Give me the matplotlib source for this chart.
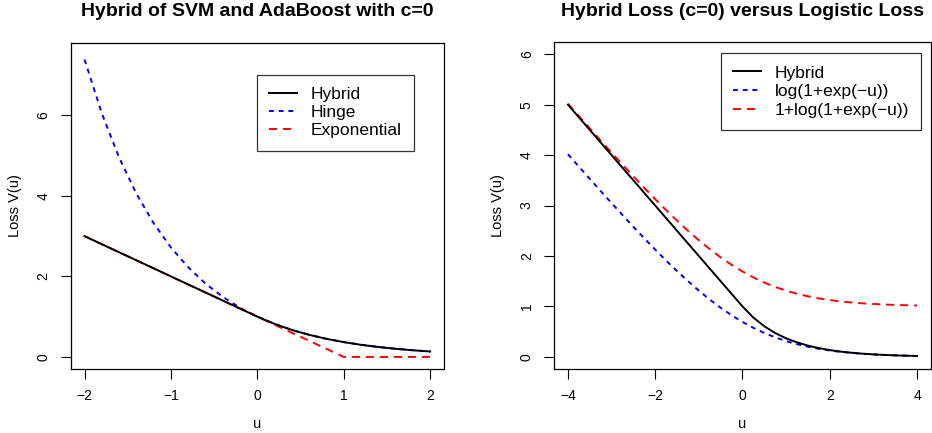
import matplotlib
matplotlib.use("Agg")
import matplotlib.pyplot as plt

plt.rcParams['font.family'] = ['Liberation Sans', 'DejaVu Sans']

# left panel: u from -2 to 2
u_left = [-2.0, -1.8, -1.6, -1.4, -1.2, -1.0, -0.8, -0.6, -0.4, -0.2, 0.0,
          0.2, 0.4, 0.6, 0.8, 1.0, 1.2, 1.4, 1.6, 1.8, 2.0]
hybrid_left = [3.0, 2.8, 2.6, 2.4, 2.2, 2.0, 1.8, 1.6, 1.4, 1.2, 1.0,
               0.819, 0.670, 0.549, 0.449, 0.368, 0.301, 0.247, 0.202, 0.165, 0.135]
hinge_left = [7.389, 6.050, 4.953, 4.055, 3.320, 2.718, 2.226, 1.822, 1.492, 1.221, 1.0,
              0.819, 0.670, 0.549, 0.449, 0.368, 0.301, 0.247, 0.202, 0.165, 0.135]
expo_left = [3.0, 2.8, 2.6, 2.4, 2.2, 2.0, 1.8, 1.6, 1.4, 1.2, 1.0,
             0.8, 0.6, 0.4, 0.2, 0.0, 0.0, 0.0, 0.0, 0.0, 0.0]

# right panel: u from -4 to 4
u_right = [-4.0, -3.75, -3.5, -3.25, -3.0, -2.75, -2.5, -2.25, -2.0, -1.75, -1.5,
           -1.25, -1.0, -0.75, -0.5, -0.25, 0.0, 0.25, 0.5, 0.75, 1.0, 1.25,
           1.5, 1.75, 2.0, 2.25, 2.5, 2.75, 3.0, 3.25, 3.5, 3.75, 4.0]
hybrid_right = [5.0, 4.75, 4.5, 4.25, 4.0, 3.75, 3.5, 3.25, 3.0, 2.75, 2.5,
                2.25, 2.0, 1.75, 1.5, 1.25, 1.0, 0.779, 0.607, 0.472, 0.368, 0.287,
                0.223, 0.174, 0.135, 0.105, 0.082, 0.064, 0.050, 0.039, 0.030, 0.024, 0.018]
logit_right = [4.018, 3.773, 3.530, 3.288, 3.049, 2.812, 2.579, 2.350, 2.127, 1.910, 1.701,
               1.502, 1.313, 1.137, 0.974, 0.826, 0.693, 0.576, 0.474, 0.387, 0.313, 0.252,
               0.201, 0.160, 0.127, 0.100, 0.079, 0.062, 0.049, 0.038, 0.030, 0.023, 0.018]
logit1_right = [5.018, 4.773, 4.530, 4.288, 4.049, 3.812, 3.579, 3.350, 3.127, 2.910, 2.701,
                2.502, 2.313, 2.137, 1.974, 1.826, 1.693, 1.576, 1.474, 1.387, 1.313, 1.252,
                1.201, 1.160, 1.127, 1.100, 1.079, 1.062, 1.049, 1.038, 1.030, 1.023, 1.018]

fig = plt.figure(figsize=(9.32, 4.33), dpi=100)
ax1 = fig.add_axes([0.0759, 0.1478, 0.4005, 0.753])
ax2 = fig.add_axes([0.5944, 0.1478, 0.4045, 0.755])

lw = 1.4
blue_ls = (0, (2.5, 2.5))
red_ls = (0, (4.2, 3.0))


def style(ax, xticks, yticks, xlim, ylim, title):
    ax.set_xlim(*xlim)
    ax.set_ylim(*ylim)
    ax.set_xticks(xticks)
    ax.set_yticks(yticks)
    ax.set_xticklabels(['\u2212' + str(-t) if t < 0 else str(t) for t in xticks])
    ax.set_yticklabels([str(t) for t in yticks], rotation=90, va='center')
    ax.tick_params(direction='out', length=7.5, width=0.8, labelsize=10, pad=7)
    for s in ax.spines.values():
        s.set_linewidth(0.9)
    ax.set_xlabel('u', fontsize=10.5)
    ax.xaxis.set_label_coords(0.5, -0.169)
    ax.xaxis.label.set_va('center')
    ax.set_ylabel('Loss V(u)', fontsize=10.5)
    ax.yaxis.label.set_va('center')
    ax.set_title(title, fontsize=14, fontweight='bold', y=1.095, va='center', pad=0)


def legend(ax, anchor, bpad, lspace):
    h, l = ax.get_legend_handles_labels()
    leg = ax.legend([h[2], h[0], h[1]], [l[2], l[0], l[1]], loc='upper left',
                    bbox_to_anchor=anchor, fontsize=12.5, frameon=True,
                    fancybox=False, edgecolor='black', handlelength=1.65,
                    handletextpad=0.75, labelspacing=lspace, borderpad=bpad,
                    borderaxespad=0)
    leg.get_frame().set_linewidth(0.9)
    return leg


ax1.plot(u_left, hinge_left, color='blue', lw=lw, ls=blue_ls, label='Hinge')
ax1.plot(u_left, expo_left, color='red', lw=lw, ls=red_ls, label='Exponential')
ax1.plot(u_left, hybrid_left, color='black', lw=lw, label='Hybrid')
style(ax1, [-2, -1, 0, 1, 2], [0, 2, 4, 6], (-2.16, 2.16), (-0.3, 7.8),
      'Hybrid of SVM and AdaBoost with c=0')
ax1.yaxis.set_label_coords(-0.149, 0.5)
legend(ax1, (0.498, 0.902), 0.7, 0.17)

ax2.plot(u_right, logit_right, color='blue', lw=lw, ls=blue_ls, label='log(1+exp(\u2212u))')
ax2.plot(u_right, logit1_right, color='red', lw=lw, ls=red_ls, label='1+log(1+exp(\u2212u))')
ax2.plot(u_right, hybrid_right, color='black', lw=lw, label='Hybrid')
style(ax2, [-4, -2, 0, 2, 4], [0, 1, 2, 3, 4, 5, 6], (-4.32, 4.32), (-0.24, 6.24),
      'Hybrid Loss (c=0) versus Logistic Loss')
ax2.yaxis.set_label_coords(-0.148, 0.5)
legend(ax2, (0.442, 0.966), 0.7, 0.2)

fig.savefig('out.png', dpi=100)
